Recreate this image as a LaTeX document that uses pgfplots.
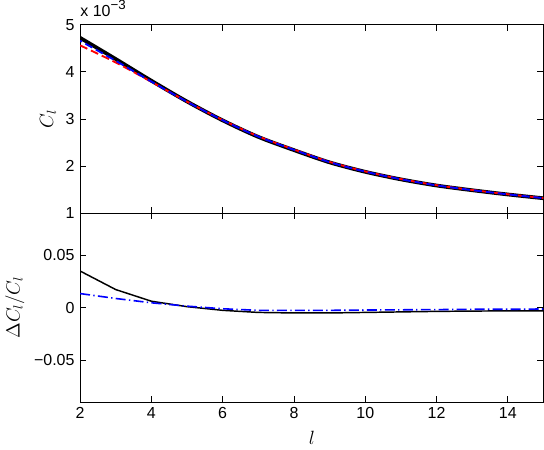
\documentclass[border=0pt]{standalone}
\usepackage{pgfplots}
\pgfplotsset{compat=1.18}
\usepackage{fontspec}
\setmainfont{Liberation Sans}
\begin{document}
\fontsize{12}{14}\selectfont
\begin{tikzpicture}
\pgfplotsset{
  every axis/.append style={
    scale only axis, width=348pt, height=141.75pt,
    xmin=2, xmax=15,
    xtick={2,4,6,8,10,12,14},
    tick align=inside,
    major tick length=4.5pt,
    tick style={black, line width=0.6pt},
    axis line style={line width=0.8pt},
    scaled y ticks=false,
    /pgf/number format/assume math mode=true,
    ticklabel style={font=\fontsize{12}{14}\selectfont},
    label style={font=\fontsize{14}{16}\selectfont},
  }
}
\begin{axis}[
  name=top,
  ymin=1, ymax=5,
  ytick={1,2,3,4,5},
  xticklabels={},
  ylabel={$C_l$},
  ylabel style={yshift=-1pt},
]
\addplot[black, line width=2.8pt, smooth] coordinates {
(2,4.72) (3,4.27) (4,3.81) (5,3.37) (6,2.97) (7,2.62) (8,2.34) (9,2.08) (10,1.88) (11,1.72) (12,1.59) (13,1.49) (14,1.40) (15,1.32)};
\addplot[red, line width=1.4pt, dash pattern=on 6pt off 3pt, smooth] coordinates {
(2,4.560) (3,4.197) (4,3.787) (5,3.367) (6,2.977) (7,2.632) (8,2.352) (9,2.090) (10,1.888) (11,1.727) (12,1.596) (13,1.495) (14,1.404) (15,1.324)};
\addplot[blue, line width=1.4pt, dash pattern=on 6pt off 3pt, dash phase=4.5pt, smooth] coordinates {
(2,4.657) (3,4.233) (4,3.792) (5,3.365) (6,2.973) (7,2.627) (8,2.346) (9,2.085) (10,1.884) (11,1.723) (12,1.593) (13,1.492) (14,1.402) (15,1.322)};
\end{axis}
\begin{axis}[
  at={(top.south west)}, anchor=north west,
  ymin=-0.09, ymax=0.09,
  ytick={-0.05,0,0.05},
  yticklabels={−0.05,0,0.05},
  xlabel={$l$},
  xlabel style={yshift=-1pt},
  ylabel={$\Delta C_l/C_l$},
  ylabel style={yshift=-1pt},
]
\addplot[black, line width=1.1pt] coordinates {
(2,0.035) (3,0.0173) (4,0.0062) (5,0.001) (6,-0.0025) (7,-0.0045) (8,-0.005) (9,-0.005) (10,-0.0045) (11,-0.004) (12,-0.0035) (13,-0.0032) (14,-0.003) (15,-0.003)};
\addplot[blue, line width=1.2pt, dash pattern=on 7.5pt off 2.5pt on 1pt off 2.5pt] coordinates {
(2,0.0135) (3,0.0088) (4,0.0047) (5,0.0015) (6,-0.001) (7,-0.0025) (8,-0.0025) (9,-0.0025) (10,-0.0022) (11,-0.002) (12,-0.0018) (13,-0.0015) (14,-0.0015) (15,-0.0012)};
\end{axis}
\node[anchor=base west, inner sep=0pt, xshift=0pt, yshift=6pt, font=\fontsize{12}{14}\selectfont] at (top.north west) {x 10\raisebox{5.5pt}{\fontsize{10}{11}\selectfont −3}};
\end{tikzpicture}
\end{document}
